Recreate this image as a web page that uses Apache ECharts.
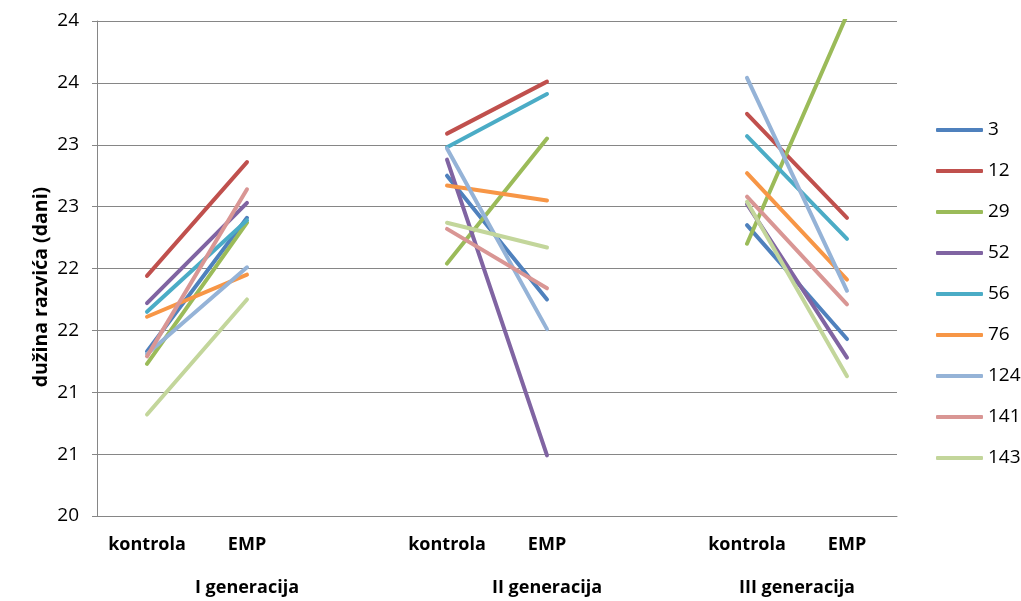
<!DOCTYPE html>
<html>
<head>
<meta charset="utf-8">
<script src="https://cdn.jsdelivr.net/npm/echarts@6/dist/echarts.min.js"></script>
<style>html,body{margin:0;padding:0;background:#fff}#c{width:1021px;height:601px}</style>
</head>
<body>
<div id="c"></div>
<script>
// categories (blank slots separate the generations)
var categories = ['kontrola', 'EMP', '', 'kontrola', 'EMP', '', 'kontrola', 'EMP'];
// group labels and their centre positions on a 0..8 category span
var groupNames = ['I generacija', 'II generacija', 'III generacija'];
var groupCenters = [1.5, 4.5, 7];
// y tick labels as shown in the original (rounded)
var yTickLabels = ['20', '21', '21', '22', '22', '23', '23', '24', '24'];
var seriesNames = ['3', '12', '29', '52', '56', '76', '124', '141', '143'];
var s3   = [21.33, 22.41, null, 22.75, 21.75, null, 22.35, 21.43];
var s12  = [21.94, 22.86, null, 23.09, 23.51, null, 23.25, 22.41];
var s29  = [21.23, 22.37, null, 22.04, 23.05, null, 22.20, 24.05];
var s52  = [21.72, 22.53, null, 22.88, 20.49, null, 22.52, 21.28];
var s56  = [21.65, 22.39, null, 22.98, 23.41, null, 23.07, 22.24];
var s76  = [21.61, 21.95, null, 22.67, 22.55, null, 22.77, 21.91];
var s124 = [21.31, 22.01, null, 22.97, 21.51, null, 23.54, 21.82];
var s141 = [21.29, 22.64, null, 22.32, 21.84, null, 22.58, 21.71];
var s143 = [20.82, 21.75, null, 22.37, 22.17, null, 22.54, 21.13];
var seriesData = [s3, s12, s29, s52, s56, s76, s124, s141, s143];
var colors = ['#4F81BD', '#C0504D', '#9BBB59', '#8064A2', '#4BACC6', '#F79646', '#95B3D7', '#D99694', '#C3D69B'];

var FONT = 'Open Sans';
var chart = echarts.init(document.getElementById('c'), null, {renderer: 'canvas'});
var option = {
  animation: false,
  color: colors,
  grid: {left: 97, right: 124, top: 21, bottom: 85},
  legend: {
    orient: 'vertical', left: 931, top: 115,
    itemWidth: 47, itemHeight: 4, itemGap: 21,
    icon: 'roundRect',
    textStyle: {fontFamily: FONT, fontSize: 19, color: '#000', lineHeight: 20},
    data: seriesNames
  },
  xAxis: [{
    type: 'category', data: categories, position: 'bottom',
    axisLine: {lineStyle: {color: '#868686', width: 1}},
    axisTick: {show: false},
    axisLabel: {interval: 0, margin: 20, fontFamily: FONT, fontWeight: 'bold', fontSize: 18, color: '#000'}
  }, {
    type: 'value', min: 0, max: categories.length, interval: 0.5, position: 'bottom',
    axisLine: {show: false}, axisTick: {show: false}, splitLine: {show: false},
    axisLabel: {
      margin: 63, fontFamily: FONT, fontWeight: 'bold', fontSize: 18, color: '#000', showMinLabel: true, showMaxLabel: true,
      formatter: function (v) { var i = groupCenters.indexOf(v); return i >= 0 ? groupNames[i] : ''; }
    }
  }],
  yAxis: {
    type: 'value', min: 20, max: 24, interval: 0.5,
    axisLine: {show: true, lineStyle: {color: '#868686', width: 1}},
    axisTick: {show: true, length: 5, lineStyle: {color: '#868686'}},
    splitLine: {lineStyle: {color: '#868686', width: 1}},
    axisLabel: {margin: 18, fontFamily: FONT, fontSize: 19, color: '#000',
      formatter: function (v) { return yTickLabels[Math.round((v - 20) / 0.5)]; }}
  },
  graphic: [{
    type: 'text', x: 41, y: 287, rotation: Math.PI / 2,
    style: {text: 'dužina razvića (dani)', fontFamily: FONT, fontWeight: 'bold', fontSize: 19.5, fill: '#000', align: 'center', verticalAlign: 'middle'}
  }],
  series: seriesNames.map(function (n, i) {
    return {
      name: n, type: 'line', data: seriesData[i], xAxisIndex: 0,
      showSymbol: false, symbol: 'none', connectNulls: false, clip: true,
      lineStyle: {width: 4, cap: 'round', color: colors[i]},
      itemStyle: {color: colors[i]}
    };
  })
};
chart.setOption(option);
</script>
</body>
</html>
